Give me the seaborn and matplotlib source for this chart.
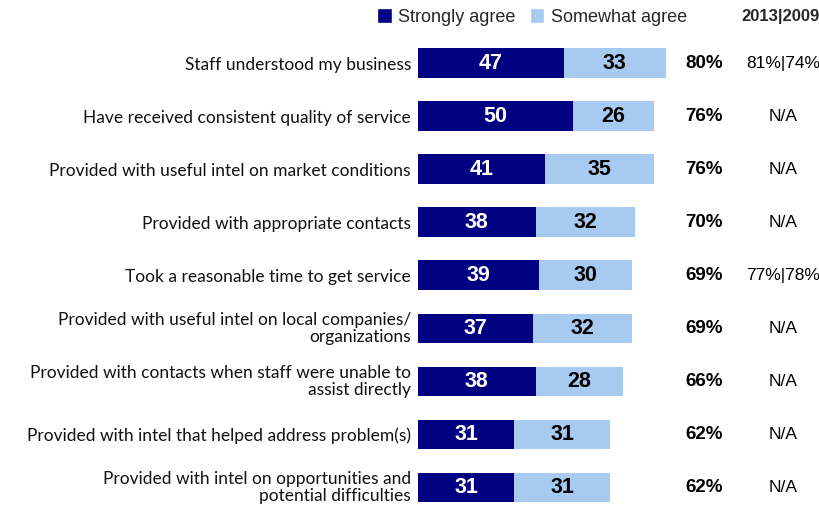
import matplotlib
matplotlib.use("Agg")
import matplotlib.pyplot as plt
import matplotlib.transforms as mtransforms
import seaborn as sns
import pandas as pd
from matplotlib.patches import Patch

sns.set_theme(style="white")
plt.rcParams["font.family"] = ["Liberation Sans", "DejaVu Sans"]

statements = [
    "Staff understood my business",
    "Have received consistent quality of service",
    "Provided with useful intel on market conditions",
    "Provided with appropriate contacts",
    "Took a reasonable time to get service",
    "Provided with useful intel on local companies/\norganizations",
    "Provided with contacts when staff were unable to\nassist directly",
    "Provided with intel that helped address problem(s)",
    "Provided with intel on opportunities and\npotential difficulties",
]
strongly_agree = [47, 50, 41, 38, 39, 37, 38, 31, 31]
somewhat_agree = [33, 26, 35, 32, 30, 32, 28, 31, 31]
total_agree = ["80%", "76%", "76%", "70%", "69%", "69%", "66%", "62%", "62%"]
history = ["81%|74%", "N/A", "N/A", "N/A", "77%|78%", "N/A", "N/A", "N/A", "N/A"]

DARK = "#000080"
LIGHT = "#A6CAF0"

df = pd.DataFrame({
    "statement": statements,
    "strong": strongly_agree,
    "some": somewhat_agree,
})
df["total"] = df["strong"] + df["some"]

fig = plt.figure(figsize=(8.2, 5.05), dpi=100)
ax = fig.add_axes([418 / 820, 0, 402 / 820, 1])

# stacked bars: full agreement first, strong agreement drawn over it
sns.barplot(data=df, y="statement", x="total", color=LIGHT, orient="h",
            width=0.56, saturation=1, ax=ax, linewidth=0)
sns.barplot(data=df, y="statement", x="strong", color=DARK, orient="h",
            width=0.56, saturation=1, ax=ax, linewidth=0)

ax.set_xlim(0, 402 / 3.1)
ax.set_ylim(8.33, -1.19)
ax.set_xlabel("")
ax.set_ylabel("")
ax.set_xticks([])
ax.set_yticks([])
sns.despine(ax=ax, left=True, bottom=True)

# statement labels, right-aligned just left of the bars
label_tf = mtransforms.blended_transform_factory(ax.transAxes, ax.transData) + \
    mtransforms.ScaledTranslation(-7 / 100, 0, fig.dpi_scale_trans)
for i, text in enumerate(statements):
    two_lines = "\n" in text
    ax.text(0, i, text, transform=label_tf, ha="right",
            va="center" if two_lines else "center_baseline",
            multialignment="right", linespacing=1.12, fontsize=12.5,
            family=["Lato", "DejaVu Sans"], color="#111111", clip_on=False)

for i, row in df.iterrows():
    ax.text(row["strong"] / 2, i, str(row["strong"]), ha="center", va="center",
            color="white", fontsize=15.5, fontweight="bold")
    ax.text(row["strong"] + row["some"] / 2, i, str(row["some"]), ha="center",
            va="center", color="black", fontsize=15.5, fontweight="bold")
    ax.text(92.4, i, total_agree[i], ha="center", va="center", color="black",
            fontsize=13.5, fontweight="bold")
    ax.text(117.8, i, history[i], ha="center", va="center",
            color="black", fontsize=12.5)

ax.text(129.5, -0.88, "2013|2009", ha="right", va="center", fontsize=12,
        fontweight="bold")

handles = [Patch(facecolor=DARK, label="Strongly agree"),
           Patch(facecolor=LIGHT, label="Somewhat agree")]
fig.legend(handles=handles, loc="center", bbox_to_anchor=(532 / 820, 1 - 17 / 505),
           ncol=2, frameon=False, prop={"family": "Liberation Sans", "size": 13},
           handlelength=0.8, handleheight=0.9, handletextpad=0.35,
           columnspacing=0.8, borderpad=0)

fig.savefig("out.png", dpi=100)
